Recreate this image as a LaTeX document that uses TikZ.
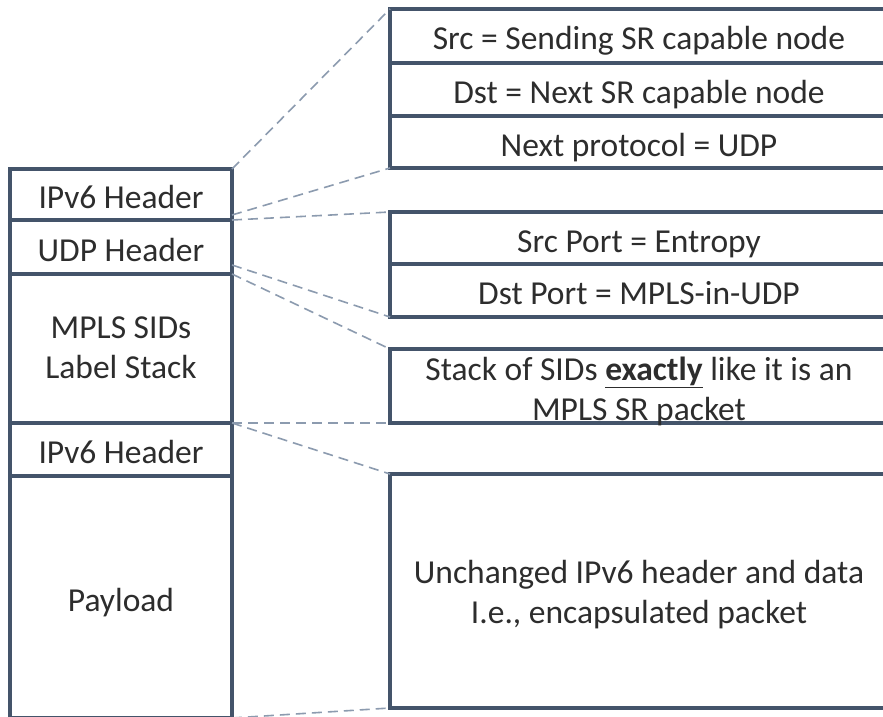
\documentclass[tikz,border=0pt]{standalone}
\usepackage{fontspec}
\setmainfont{Carlito}
\usetikzlibrary{calc}
\definecolor{boxline}{RGB}{68,84,106}
\definecolor{zoomline}{RGB}{140,155,175}
\definecolor{ink}{RGB}{45,45,45}
\tikzset{
  cell/.style={draw=boxline, line width=3.5pt, fill=white, rectangle,
    inner sep=0pt, outer sep=0pt, anchor=north west,
    text=ink, font=\fontsize{33.5}{40}\selectfont,
    text height=28pt, text depth=0pt},
  blank/.style={cell, text height=, text depth=},
  multi/.style={text=ink, font=\fontsize{33.5}{40}\selectfont, align=center,
    inner sep=0pt},
  zoom/.style={draw=zoomline, line width=1.6pt, dash pattern=on 10pt off 6pt}
}
\begin{document}
\begin{tikzpicture}[x=1pt, y=-1pt]
\clip (0,0) rectangle (883,717);
\fill[white] (0,0) rectangle (883,717);

% left: the packet layout
\node[cell, minimum width=222pt, minimum height=51pt]  (l1) at (10,169) {IPv6 Header};
\node[cell, minimum width=222pt, minimum height=54pt]  (l2) at (10,220) {UDP Header};
\node[blank, minimum width=222pt, minimum height=149pt] (l3) at (10,274) {};
\node[cell, minimum width=222pt, minimum height=53pt]  (l4) at (10,423) {IPv6 Header};
\node[cell, minimum width=222pt, minimum height=242pt] (l5) at (10,476) {Payload};
\node[multi] (l3t) at ($(l3.center)+(0,-1)$) {MPLS SIDs\\Label Stack};

% right: header field details (right edge runs past the page)
\coordinate (rc) at (639,0);
\node[cell, minimum width=500pt, minimum height=54pt] (r1) at (390,9)   {};
\node[cell, minimum width=500pt, minimum height=53pt] (r2) at (390,63)  {};
\node[cell, minimum width=500pt, minimum height=52pt] (r3) at (390,116) {};
\node[cell, minimum width=500pt, minimum height=52pt] (r4) at (390,212) {};
\node[cell, minimum width=500pt, minimum height=53pt] (r5) at (390,264) {};
\node[blank, minimum width=500pt, minimum height=74pt] (r6) at (390,349) {};
\node[blank, minimum width=500pt, minimum height=234pt] (r7) at (390,474) {};

\node[cell, draw=none, fill=none, anchor=center] (r1t) at (rc |- r1.center) {Src = Sending SR capable node};
\node[cell, draw=none, fill=none, anchor=center] (r2t) at (rc |- r2.center) {Dst = Next SR capable node};
\node[cell, draw=none, fill=none, anchor=center] (r3t) at (rc |- r3.center) {Next protocol = UDP};
\node[cell, draw=none, fill=none, anchor=center] (r4t) at (rc |- r4.center) {Src Port = Entropy};
\node[cell, draw=none, fill=none, anchor=center] (r5t) at (rc |- r5.center) {Dst Port = MPLS-in-UDP};
\node[multi] (r6t) at ($(rc |- r6.center)+(0,5)$)
  {Stack of SIDs \underline{\textbf{exactly}} like it is an\\MPLS SR packet};
\node[multi] (r7t) at ($(rc |- r7.center)+(0,4)$)
  {Unchanged IPv6 header and data\\I.e., encapsulated packet};

% dashed zoom lines from the layout to the details
\draw[zoom] (l1.north east) -- (r1.north west);
\draw[zoom] ($(l1.south east)+(0,-5)$) -- (r3.south west);
\draw[zoom] (l1.south east) -- (r4.north west);
\draw[zoom] ($(l2.south east)+(0,-9)$) -- (r5.south west);
\draw[zoom] (l2.south east) -- (r6.north west);
\draw[zoom] (l3.south east) -- (r6.south west);
\draw[zoom] (l3.south east) -- (r7.north west);
\draw[zoom] (l5.south east) -- (r7.south west);
\end{tikzpicture}
\end{document}
